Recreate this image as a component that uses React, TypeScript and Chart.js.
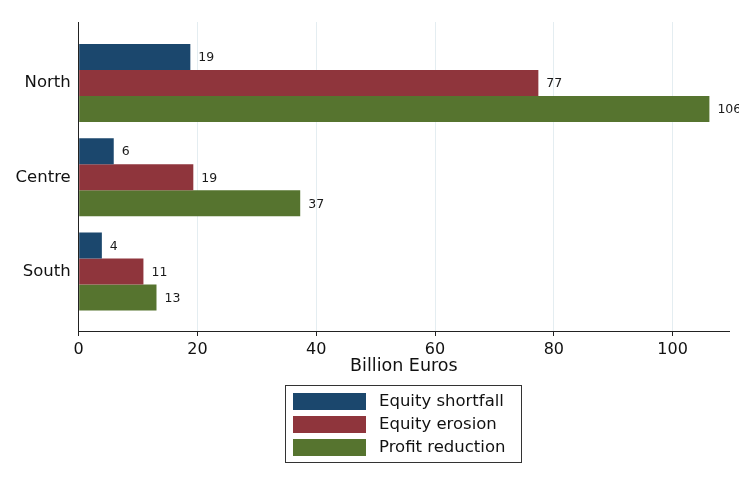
import React, { useEffect, useRef } from "react";
import { Chart, registerables } from "chart.js";

Chart.register(...registerables);

const regions = ["North", "Centre", "South"];
const equityShortfall = [18.8, 5.9, 3.9];
const equityErosion = [77.4, 19.3, 10.9];
const profitReduction = [106.2, 37.3, 13.1];
const seriesNames = ["Equity shortfall", "Equity erosion", "Profit reduction"];
const seriesColors = ["#1b476d", "#8f353c", "#56742f"];
const xTickValues = [0, 20, 40, 60, 80, 100];
const xTitle = "Billion Euros";

const FONT = "'DejaVu Sans', 'Liberation Sans', Arial, sans-serif";

const valueLabels = {
  id: "valueLabels",
  afterDatasetsDraw(chart: any) {
    const ctx = chart.ctx;
    ctx.save();
    ctx.font = `12.5px ${FONT}`;
    ctx.fillStyle = "#1a1a1a";
    ctx.textBaseline = "middle";
    ctx.textAlign = "left";
    chart.data.datasets.forEach((ds: any, i: number) => {
      const meta = chart.getDatasetMeta(i);
      meta.data.forEach((el: any, j: number) => {
        const v = ds.data[j].x;
        ctx.fillText(String(Math.round(v)), el.x + 8, el.y + 1);
      });
    });
    ctx.restore();
  },
};

const boxLegend = {
  id: "boxLegend",
  afterDraw(chart: any) {
    const ctx = chart.ctx;
    ctx.save();
    ctx.strokeStyle = "#333";
    ctx.lineWidth = 1;
    ctx.strokeRect(285.5, 385.5, 236, 77);
    ctx.font = `16.5px ${FONT}`;
    ctx.textBaseline = "middle";
    ctx.fillStyle = "#111";
    chart.data.datasets.forEach((ds: any, i: number) => {
      const y = 393 + i * 23;
      ctx.fillStyle = ds.backgroundColor;
      ctx.fillRect(293, y, 73, 17);
      ctx.fillStyle = "#111";
      ctx.fillText(ds.label, 379, y + 9);
    });
    ctx.restore();
  },
};

export default function App() {
  const ref = useRef<HTMLCanvasElement>(null);
  useEffect(() => {
    if (!ref.current) return;
    const all = [equityShortfall, equityErosion, profitReduction];
    const chart = new Chart(ref.current, {
      type: "bar",
      data: {
        datasets: all.map((arr, i) => ({
          label: seriesNames[i],
          data: arr.map((v, j) => ({ x: v, y: j })),
          backgroundColor: seriesColors[i],
          borderWidth: 0,
          categoryPercentage: 0.828,
          barPercentage: 1,
        })),
      },
      options: {
        indexAxis: "y",
        animation: false,
        responsive: false,
        maintainAspectRatio: false,
        layout: { padding: { top: 22, right: 10, bottom: 102, left: 0 } },
        plugins: {
          legend: { display: false },
          tooltip: { enabled: false },
        },
        scales: {
          x: {
            type: "linear",
            min: 0,
            max: 109.5,
            afterBuildTicks: (s: any) => {
              s.ticks = xTickValues.map((v) => ({ value: v }));
            },
            afterFit: (s: any) => {
              s.height = 46;
            },
            grid: {
              color: (c: any) => (c.tick && c.tick.value === 0 ? "rgba(0,0,0,0)" : "#e4edf1"),
              tickColor: "#222",
              tickLength: 5,
              drawOnChartArea: true,
            },
            border: { display: true, color: "#222", width: 1 },
            ticks: {
              color: "#111",
              font: { family: FONT, size: 16 },
              padding: 4,
              maxRotation: 0,
            },
            title: {
              display: true,
              text: xTitle,
              color: "#111",
              font: { family: FONT, size: 17.5 },
              padding: { top: 0, bottom: 0 },
            },
          },
          y: {
            type: "linear",
            offset: false,
            reverse: true,
            min: -0.647,
            max: 2.631,
            afterBuildTicks: (s: any) => {
              s.ticks = regions.map((_, i) => ({ value: i }));
            },
            afterFit: (s: any) => {
              s.width = 78.7;
            },
            grid: { display: false, drawTicks: false, offset: false },
            border: { display: true, color: "#222", width: 1 },
            ticks: {
              color: "#111",
              font: { family: FONT, size: 16.5 },
              padding: 8,
              callback: (v: any) => regions[v as number] ?? "",
            },
          },
        },
      },
      plugins: [valueLabels, boxLegend],
    } as any);
    return () => chart.destroy();
  }, []);
  return (
    <div style={{ position: "fixed", left: 0, top: 0, width: 739, height: 479, background: "#fff" }}>
      <canvas ref={ref} width={739} height={479} style={{ display: "block", width: 739, height: 479 }} />
    </div>
  );
}
